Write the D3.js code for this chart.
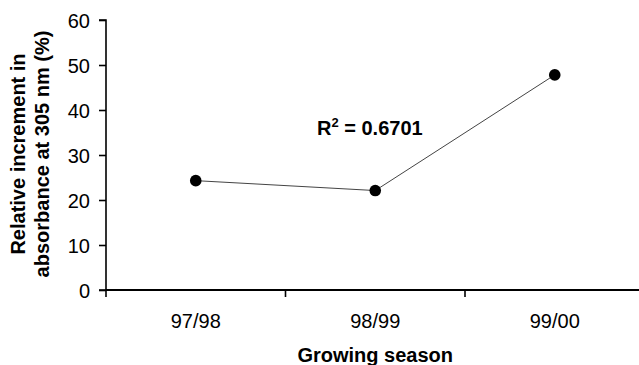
<!DOCTYPE html>
<html><head><meta charset="utf-8">
<script src="https://cdn.jsdelivr.net/npm/d3@7"></script>
<style>body{margin:0;background:#fff}svg{display:block}text{font-family:"Liberation Sans",Arial,sans-serif;fill:#000}</style>
</head><body>
<script>
const categories = ["97/98", "98/99", "99/00"];
const values = [24.3, 22.1, 47.8];
const yTicks = [0, 10, 20, 30, 40, 50, 60];
const r2Label = "0.6701";

const W = 639, H = 365;
const svg = d3.select("body").append("svg").attr("width", W).attr("height", H);
const x = d3.scaleBand().domain(categories).range([106, 644.5]);
const y = d3.scaleLinear().domain([0, 60]).range([290, 20]);

// y axis
const yAxis = svg.append("g").attr("transform", "translate(106,0)")
  .call(d3.axisLeft(y).tickValues(yTicks).tickSize(7).tickPadding(9).tickFormat(d3.format("d")));
yAxis.selectAll("text").style("font-size", "20px").attr("dy", "0.36em");
yAxis.select(".domain").attr("stroke-width", 1.6).attr("d", "M-7,20H0V290H-7");
yAxis.selectAll(".tick line").attr("stroke-width", 1.6);

// x axis
svg.append("line").attr("x1", 106).attr("x2", W).attr("y1", y(0)).attr("y2", y(0))
  .attr("stroke", "#000").attr("stroke-width", 1.8);
const bounds = categories.map(c => x(c)).concat([x(categories[2]) + x.bandwidth()]);
svg.selectAll(".xt").data(bounds).join("line")
  .attr("x1", d => d).attr("x2", d => d).attr("y1", y(0)).attr("y2", y(0) + 7)
  .attr("stroke", "#000").attr("stroke-width", 1.6);
svg.selectAll(".xl").data(categories).join("text")
  .attr("x", d => x(d) + x.bandwidth() / 2).attr("y", 328)
  .attr("text-anchor", "middle").style("font-size", "20px").text(d => d);

// line + points
const line = d3.line().x((d, i) => x(categories[i]) + x.bandwidth() / 2).y(d => y(d));
svg.append("path").datum(values).attr("d", line).attr("fill", "none")
  .attr("stroke", "#444").attr("stroke-width", 1);
svg.selectAll(".pt").data(values).join("circle")
  .attr("cx", (d, i) => x(categories[i]) + x.bandwidth() / 2).attr("cy", d => y(d))
  .attr("r", 5.8).attr("fill", "#000");

// R^2
const rt = svg.append("text").attr("x", 317).attr("y", 135).style("font-size", "20px").style("font-weight", "bold");
rt.append("tspan").text("R");
rt.append("tspan").attr("dy", -8).style("font-size", "13px").text("2");
rt.append("tspan").attr("dy", 8).text(" = " + r2Label);

// axis titles
svg.append("text").attr("x", (106 + 644.5) / 2).attr("y", 362).attr("text-anchor", "middle")
  .style("font-size", "20px").style("font-weight", "bold").text("Growing season");
const yt = svg.append("text").attr("transform", "translate(25,154) rotate(-90)")
  .attr("text-anchor", "middle").style("font-size", "20px").style("font-weight", "bold");
yt.append("tspan").attr("x", 0).attr("y", 0).text("Relative increment in");
yt.append("tspan").attr("x", 0).attr("y", 24).text("absorbance at 305 nm (%)");
</script>
</body></html>
